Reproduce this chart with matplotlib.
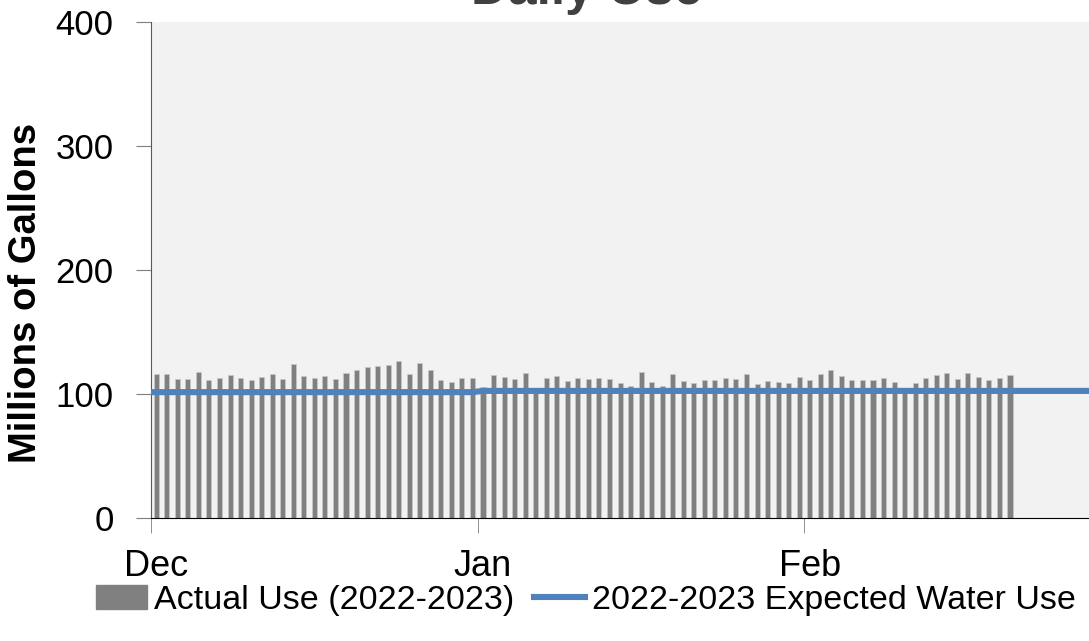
import matplotlib
matplotlib.use('Agg')
import matplotlib.pyplot as plt
import numpy as np
from matplotlib.patches import Patch
from matplotlib.lines import Line2D

plt.rcParams['font.family'] = ['Liberation Sans', 'DejaVu Sans']

# daily use, millions of gallons (Dec 1 2022 .. Feb 20 2023)
months = ['Dec', 'Jan', 'Feb']
month_days = [31, 31, 28]
actual_dec = [116.1, 116.4, 111.8, 111.8, 117.5, 111.3, 113.2, 115.3, 112.6, 111.0,
              114.0, 116.4, 111.8, 124.2, 114.5, 112.6, 114.2, 112.4, 116.7, 119.6,
              122.0, 122.3, 123.4, 126.3, 116.1, 124.7, 119.1, 111.0, 109.4, 113.2, 112.6]
actual_jan = [105.6, 115.0, 113.7, 112.1, 117.2, 103.0, 112.6, 114.5, 110.2, 112.9,
              112.1, 112.9, 112.1, 108.9, 106.5, 117.5, 109.7, 106.5, 116.1, 110.2,
              109.1, 111.3, 111.0, 112.9, 111.8, 116.1, 107.8, 110.5, 109.7, 108.9, 113.4]
actual_feb = [111.3, 116.4, 119.1, 114.5, 111.3, 111.0, 111.3, 112.6, 109.9, 101.0,
              108.9, 113.2, 115.3, 116.7, 111.8, 116.7, 113.7, 111.0, 112.6, 115.3]
expected_month = [101.5, 102.5, 102.5]

actual = np.array(actual_dec + actual_jan + actual_feb)
expected = np.repeat(expected_month, month_days)
n_days = sum(month_days)
month_start = np.concatenate([[0], np.cumsum(month_days)[:-1]])

fig = plt.figure(figsize=(10.89, 6.41), dpi=100)
ax = fig.add_axes([151/1089, 123/641, 948.6/1089, 496/641])
ax.set_facecolor('#f2f2f2')

x_bar = np.arange(len(actual)) + 0.5
ax.bar(x_bar, actual, width=0.48, color='#808080', edgecolor='#c8c8c8', linewidth=0.5, zorder=2)

x_line = np.r_[0, np.arange(n_days) + 0.5]
ax.plot(x_line, np.r_[expected[0], expected], color='#4f81bd', lw=4.4, zorder=3,
        solid_capstyle='butt')

ax.set_xlim(0, n_days)
ax.set_ylim(0, 400)
ax.set_yticks([0, 100, 200, 300, 400])
ax.tick_params(axis='y', labelsize=25, length=11, color='#7f7f7f', pad=16)

# month ticks at month start, labels centred on first day
ax.set_xticks(month_start, minor=True)
ax.set_xticks(month_start + 0.5, months)
ax.tick_params(axis='x', which='major', length=0, labelsize=26, pad=22)
ax.tick_params(axis='x', which='minor', length=11, color='#7f7f7f')

for s in ['top', 'right']:
    ax.spines[s].set_visible(False)
ax.spines['left'].set_color('#595959')
ax.spines['bottom'].set_color('#000000')

ax.set_ylabel('Millions of Gallons', fontsize=27.5, fontweight='bold')
ax.yaxis.set_label_coords(-0.113, 0.454)

fig.text(587/1089, 1 - 4/641, 'Daily Use', ha='center', va='baseline',
         fontsize=37, fontweight='bold', color='#404040')

handles = [Patch(color='#808080'), Line2D([], [], color='#4f81bd', lw=4.4)]
fig.legend(handles, ['Actual Use (2022-2023)', '2022-2023 Expected Water Use'],
           loc='center', bbox_to_anchor=(586/1089, 1 - 600/641), ncol=2, frameon=False,
           fontsize=24.5, handlelength=1.5, handletextpad=0.2, columnspacing=0.6,
           borderpad=0, borderaxespad=0)

fig.savefig('out.png', dpi=100)
